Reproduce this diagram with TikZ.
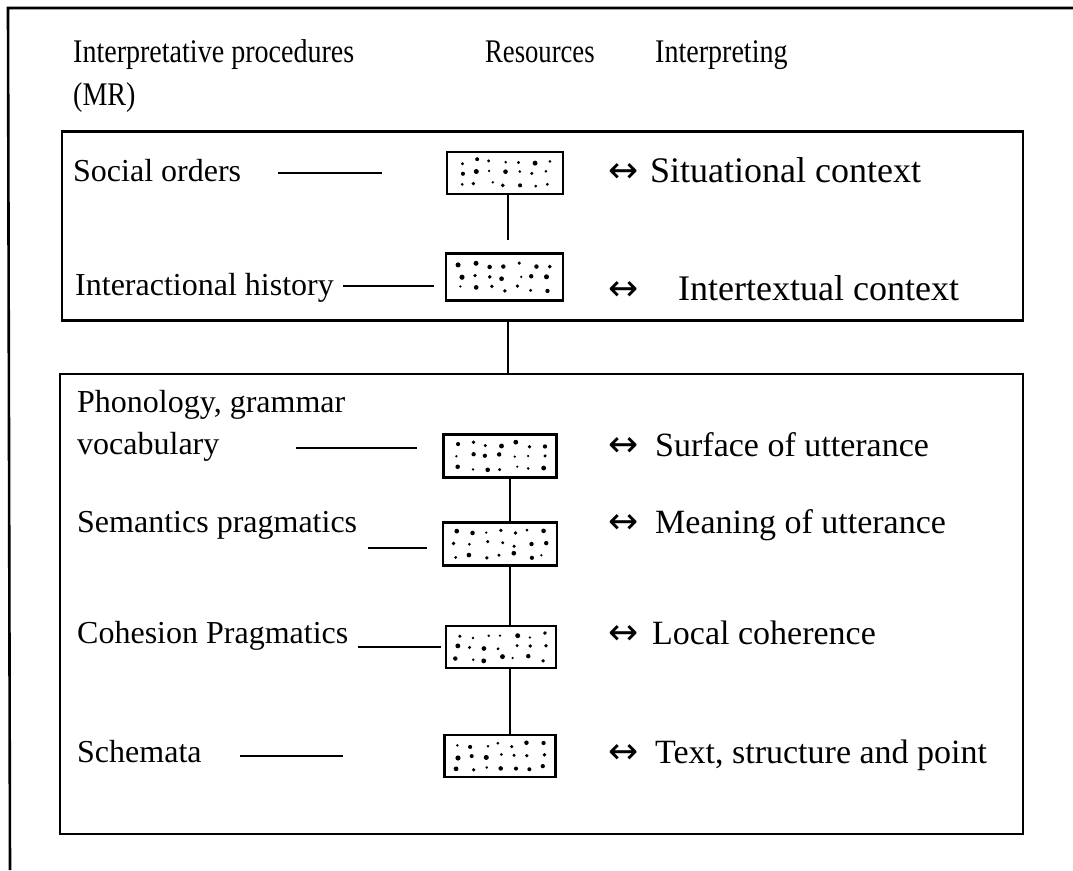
\documentclass[tikz,border=0pt]{standalone}
\usepackage{fontspec}
\setmainfont{Liberation Serif}
\newfontfamily\symfont{DejaVu Sans}
\usetikzlibrary{calc}
\newcommand\bodyfont{\fontsize{32}{38}\selectfont}
\newcommand\rightfont{\fontsize{34}{40}\selectfont}
\newcommand\upperfont{\fontsize{36}{42}\selectfont}
\newcommand\headfont{\fontsize{33}{38}\selectfont}
\tikzset{
  lbl/.style={anchor=base west, inner sep=0pt, font=\bodyfont},
  rlbl/.style={anchor=base west, inner sep=0pt, font=\rightfont},
  ulbl/.style={anchor=base west, inner sep=0pt, font=\upperfont},
  arr/.style={anchor=base west, inner sep=0pt, font=\symfont\fontsize{36}{40}\selectfont},
  head/.style={anchor=base west, inner sep=0pt, font=\headfont, xscale=0.85, transform shape},
  res/.style={draw, line width=2.4pt, inner sep=0pt},
  group/.style={draw, line width=2.4pt, inner sep=0pt},
  frameline/.style={line width=2.6pt},
  link/.style={line width=2.4pt},
}
% irregular speckle inside a resource box
\newcommand\speckle[2]{%
  \pgfmathsetseed{#2}
  \foreach \r in {1,2,3}{
    \foreach \c in {1,...,7}{
      \pgfmathsetmacro\dx{rnd*6-3}
      \pgfmathsetmacro\dy{rnd*5-2.5}
      \pgfmathsetmacro\rr{1.2+rnd*1.4}
      \fill ([shift={(\c*14.5-58+\dx,\r*11.5-23+\dy)}]#1.center) circle (\rr pt);
    }
  }
}
\begin{document}
\begin{tikzpicture}[x=1pt,y=-1pt]
\useasboundingbox (0,0) rectangle (1073,870);

% outer frame (top and left edges)
\coordinate (ftl) at (8,8);
\coordinate (ftr) at (1073,8);
\coordinate (fbl) at (10,870);
\draw[frameline] (ftr) -- (ftl) -- (fbl);

% column headings
\node[head] (h1) at (73,62) {Interpretative procedures};
\node[head] (h1b) at (73,105) {(MR)};
\node[head, xscale=0.95] (h2) at (485,62) {Resources};
\node[head] (h3) at (655,62) {Interpreting};

% upper and lower group boxes
\node[group, minimum width=961pt, minimum height=189pt] (top) at (542.5,226) {};
\node[group, minimum width=963pt, minimum height=460pt] (bot) at (541.5,604) {};

% resource boxes
\node[res, minimum width=116pt, minimum height=42pt] (A) at (505,173) {};
\node[res, minimum width=117pt, minimum height=47pt] (B) at (504.5,277) {};
\node[res, minimum width=113pt, minimum height=43pt] (C) at (500,456) {};
\node[res, minimum width=114pt, minimum height=43pt] (D) at (500,544) {};
\node[res, minimum width=110pt, minimum height=42pt] (E) at (501,647) {};
\node[res, minimum width=111pt, minimum height=42pt] (F) at (500,756) {};
\speckle{A}{11}
\speckle{B}{23}
\speckle{C}{37}
\speckle{D}{41}
\speckle{E}{53}
\speckle{F}{67}

% interpretative procedures
\node[lbl] (so) at (73,181) {Social orders};
\node[lbl] (ih) at (75,295) {Interactional history};
\node[lbl] (pg) at (77,412) {Phonology, grammar};
\node[lbl] (vo) at (77,454) {vocabulary};
\node[lbl] (sp) at (77,532) {Semantics pragmatics};
\node[lbl] (cp) at (77,643) {Cohesion Pragmatics};
\node[lbl] (sc) at (77,762) {Schemata};

% interpreting
\node[arr] (a1) at (608,182) {↔};
\node[ulbl] (i1) at (650,182) {Situational context};
\node[arr] (a2) at (608,300) {↔};
\node[ulbl] (i2) at (678,300) {Intertextual context};
\node[arr] (a3) at (608,456) {↔};
\node[rlbl] (i3) at (655,456) {Surface of utterance};
\node[arr] (a4) at (608,533) {↔};
\node[rlbl] (i4) at (655,533) {Meaning of utterance};
\node[arr] (a5) at (608,644) {↔};
\node[rlbl] (i5) at (652,644) {Local coherence};
\node[arr] (a6) at (608,763) {↔};
\node[rlbl] (i6) at (655,763) {Text, structure and point};

% leader lines from procedures towards resources
\draw[link] ([xshift=37pt]so.east |- A.west) -- ([xshift=-64pt]A.west);
\draw[link] (343,286) coordinate (ihl) -- ([xshift=-11pt]B.west |- ihl);
\draw[link] (296,448) coordinate (vol) -- ([xshift=-25pt]C.west |- vol);
\draw[link] (368,548) coordinate (spl) -- ([xshift=-15pt]D.west |- spl);
\draw[link] (358,647) coordinate (cpl) -- ([xshift=-4pt]E.west |- cpl);
\draw[link] (240,756) coordinate (scl) -- ([xshift=-100pt]F.west |- scl);

% vertical links between resources
\draw[link] (A.south -| 508,0) -- (508,240);
\draw[link] (top.south -| 508,0) -- (bot.north -| 508,0);
\draw[link] (C.south -| 510,0) -- (D.north -| 510,0);
\draw[link] (D.south -| 510,0) -- (E.north -| 510,0);
\draw[link] (E.south -| 510,0) -- (F.north -| 510,0);
\end{tikzpicture}
\end{document}
